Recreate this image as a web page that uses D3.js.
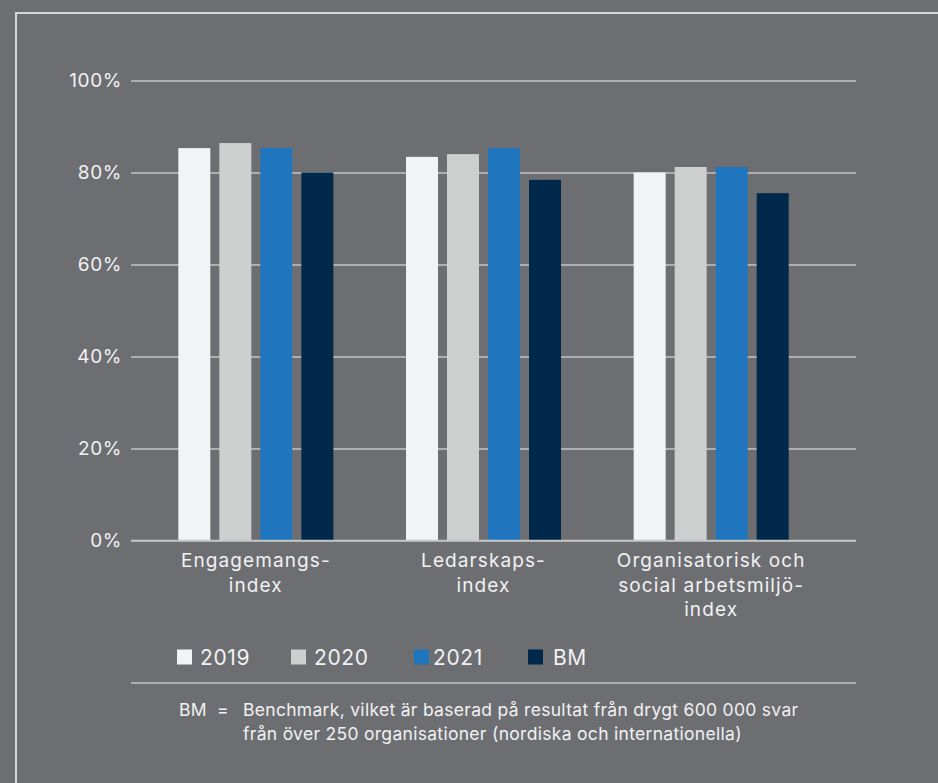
<!DOCTYPE html>
<html><head><meta charset="utf-8">
<script src="https://cdn.jsdelivr.net/npm/d3@7"></script>
<style>html,body{margin:0;padding:0;background:#6d6e72;} svg{display:block}</style>
</head><body><svg id="c" width="938" height="783"></svg>
<script>
const categories = ["Engagemangs-\nindex", "Ledarskaps-\nindex", "Organisatorisk och\nsocial arbetsmiljö-\nindex"];
const series = ["2019", "2020", "2021", "BM"];
const v2019 = [85.3, 83.4, 80.0];
const v2020 = [86.4, 84.0, 81.2];
const v2021 = [85.3, 85.3, 81.2];
const vBM = [80.0, 78.4, 75.5];
const tickValues = [0, 20, 40, 60, 80, 100];
const colors = ["#f2f3f5", "#cdcfcf", "#1f75be", "#00284b"];
const footLabel = "BM";
const footLines = ["Benchmark, vilket är baserad på resultat från drygt 600 000 svar",
                   "från över 250 organisationer (nordiska och internationella)"];

const seriesValues = [v2019, v2020, v2021, vBM];
const data = categories.map((c, i) => ({cat: c, vals: series.map((s, j) => ({key: s, value: seriesValues[j][i]}))}));

const FONT = "Inter, 'Noto Sans', sans-serif";
const TXT = "#f1f1f2";
const GRID = "#c4c5c7";
const svg = d3.select("#c");

// frame
svg.append("rect").attr("x", 16).attr("y", 13).attr("width", 1000).attr("height", 1000)
  .attr("fill", "none").attr("stroke", "#d6d7d8").attr("stroke-width", 2);

const y = d3.scaleLinear().domain([0, 100]).range([540.5, 80.5]);
const x0 = d3.scaleBand().domain(categories).range([142, 825]).padding(0);
const bw = x0.bandwidth();
const x1 = d3.scaleBand().domain(series).range([bw / 2 - 77.5, bw / 2 + 77.5]).paddingInner(0.22);

// grid + axis
const gAxis = svg.append("g").attr("transform", "translate(131,0)")
  .call(d3.axisLeft(y).tickValues(tickValues).tickSize(-725).tickPadding(9).tickFormat(d => d + "%"));
gAxis.select(".domain").remove();
gAxis.selectAll(".tick line").attr("stroke", GRID).attr("stroke-width", 1.6);
gAxis.selectAll(".tick text").attr("fill", TXT).attr("font-family", FONT).attr("font-size", 19)
  .attr("letter-spacing", 0.6);

// bars
const groups = svg.append("g").selectAll("g").data(data).join("g")
  .attr("transform", d => `translate(${x0(d.cat)},0)`);
groups.selectAll("rect").data(d => d.vals).join("rect")
  .attr("x", d => x1(d.key)).attr("width", x1.bandwidth())
  .attr("y", d => y(d.value)).attr("height", d => y(0) - y(d.value))
  .attr("fill", (d, i) => colors[i]);

// redraw baseline over bars
svg.append("line").attr("x1", 131).attr("x2", 856).attr("y1", y(0)).attr("y2", y(0))
  .attr("stroke", GRID).attr("stroke-width", 1.6);

// category labels
const catG = svg.append("g").selectAll("text").data(categories).join("text")
  .attr("x", d => x0(d) + bw / 2).attr("y", 567)
  .attr("text-anchor", "middle").attr("fill", TXT).attr("font-family", FONT).attr("font-size", 19)
  .attr("letter-spacing", 1.1);
catG.selectAll("tspan").data(d => d.split("\n")).join("tspan")
  .attr("x", function () { return d3.select(this.parentNode).attr("x"); })
  .attr("dy", (d, i) => i === 0 ? 0 : 24.5).text(d => d);

// legend
const legX = [177, 291, 414, 528];
const legTX = [200, 314, 433, 553];
const leg = svg.append("g").selectAll("g").data(series).join("g");
leg.append("rect").attr("x", (d, i) => legX[i]).attr("y", 649.5).attr("width", 15).attr("height", 15)
  .attr("fill", (d, i) => colors[i]);
leg.append("text").attr("x", (d, i) => legTX[i]).attr("y", 664.5).text(d => d)
  .attr("fill", TXT).attr("font-family", FONT).attr("font-size", 21).attr("letter-spacing", 0.6);

// separator
svg.append("line").attr("x1", 131).attr("x2", 856).attr("y1", 683).attr("y2", 683)
  .attr("stroke", GRID).attr("stroke-width", 1.6);

// footnote
const foot = svg.append("g").attr("fill", TXT).attr("font-family", FONT).attr("font-size", 17.5)
  .attr("letter-spacing", 0.3);
foot.append("text").attr("x", 179).attr("y", 716).text(footLabel);
foot.append("text").attr("x", 217).attr("y", 716).text("=");
foot.selectAll("text.l").data(footLines).join("text").attr("class", "l")
  .attr("x", 243).attr("y", (d, i) => 716 + i * 24).text(d => d);
</script></body></html>
